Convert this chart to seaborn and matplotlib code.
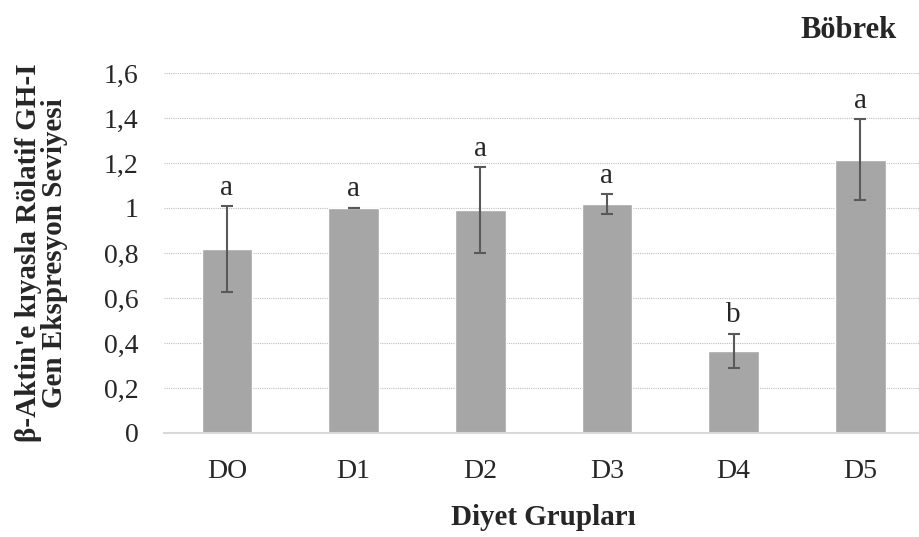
import numpy as np
import pandas as pd
import matplotlib
matplotlib.use("Agg")
import matplotlib.pyplot as plt
import seaborn as sns

# Veriler
groups = ["DO", "D1", "D2", "D3", "D4", "D5"]
means = [0.817, 1.0, 0.99, 1.018, 0.366, 1.214]
errors = [0.19, 0.002, 0.19, 0.045, 0.076, 0.18]
letters = ["a", "a", "a", "a", "b", "a"]
yticks = [0, 0.2, 0.4, 0.6, 0.8, 1.0, 1.2, 1.4, 1.6]
ytick_labels = ["0", "0,2", "0,4", "0,6", "0,8", "1", "1,2", "1,4", "1,6"]

df = pd.DataFrame({"Grup": groups, "Deger": means})

sns.set_style("white")
plt.rcParams["font.family"] = ["Liberation Serif", "DejaVu Serif"]

fig = plt.figure(figsize=(9.19, 5.37), dpi=100)
ax = fig.add_axes([0.178, 0.1937, 0.827, 0.6704])

sns.barplot(data=df, x="Grup", y="Deger", color="#A6A6A6", width=0.4,
            saturation=1, ax=ax, zorder=2)
ax.errorbar(np.arange(len(groups)), means, yerr=errors, fmt="none",
            ecolor="#595959", elinewidth=1.5, capsize=4, capthick=1.5, zorder=3)

# Harfler (istatistiksel gruplar)
for i, (m, e, l) in enumerate(zip(means, errors, letters)):
    ax.annotate(l, (i, m + e), xytext=(0, 8), textcoords="offset points",
                ha="center", va="baseline", fontsize=21)

ax.set_ylim(0, 1.6)
ax.set_xlim(-0.5, 5.5)
ax.set_yticks(yticks)
ax.set_yticklabels(ytick_labels)
ax.yaxis.grid(True, color="#BFBFBF", linestyle=(0, (1, 1)), linewidth=0.8, zorder=0)
ax.set_axisbelow(True)
for s in ["top", "right", "left"]:
    ax.spines[s].set_visible(False)
ax.spines["bottom"].set_color("#D9D9D9")
ax.spines["bottom"].set_linewidth(1.5)
ax.tick_params(axis="y", length=0, pad=18, labelsize=20)
ax.tick_params(axis="x", length=0, pad=19, labelsize=20)

ax.set_xlabel("Diyet Grupları", fontsize=21, fontweight="bold", labelpad=14)
ax.set_ylabel("β-Aktin'e kıyasla Rölatif GH-I\nGen Ekspresyon Seviyesi",
              fontsize=21, fontweight="bold", labelpad=26, linespacing=0.95)
fig.text(0.923, 0.943, "Böbrek", fontsize=22, fontweight="bold",
         ha="center", va="center")

fig.savefig("out.png", dpi=100)
